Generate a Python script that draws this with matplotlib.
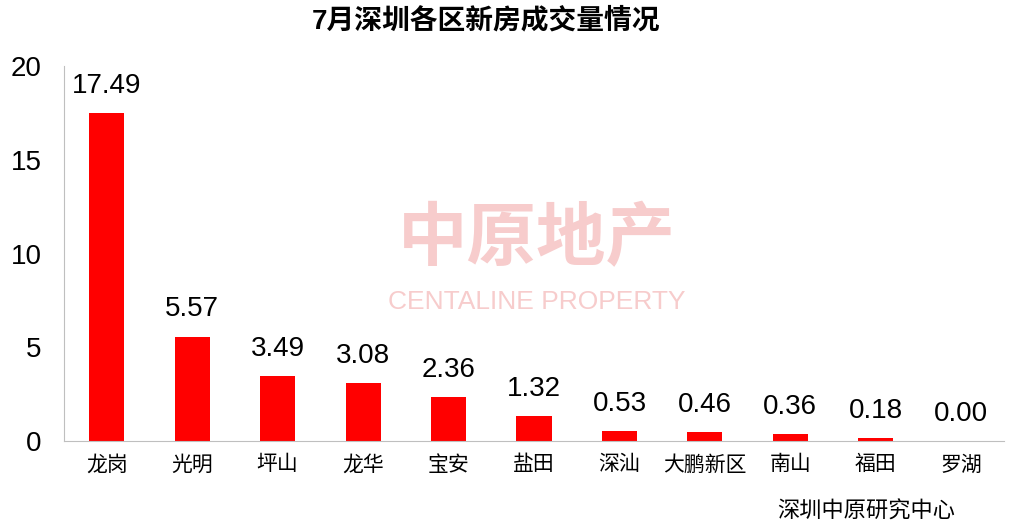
import matplotlib
matplotlib.use("Agg")
import matplotlib.pyplot as plt

plt.rcParams["font.family"] = ["Liberation Sans", "Noto Sans CJK SC"]

districts = ["龙岗", "光明", "坪山", "龙华", "宝安", "盐田", "深汕", "大鹏新区", "南山", "福田", "罗湖"]
volumes = [17.49, 5.57, 3.49, 3.08, 2.36, 1.32, 0.53, 0.46, 0.36, 0.18, 0.00]
y_ticks = [0, 5, 10, 15, 20]

fig = plt.figure(figsize=(10.13, 5.25), dpi=100)
ax = fig.add_axes([64 / 1013, 1 - 441 / 525, 940 / 1013, 375 / 525])

x = range(len(districts))
ax.bar(x, volumes, width=0.41, color="#ff0000")
for xi, v in zip(x, volumes):
    ax.text(xi, v + 0.75, f"{v:.2f}", ha="center", va="bottom", fontsize=20)

ax.set_xlim(-0.5, len(districts) - 0.5)
ax.set_ylim(0, 20)
ax.set_yticks(y_ticks)
ax.set_xticks(list(x))
ax.set_xticklabels(districts, fontsize=15)
ax.tick_params(axis="y", labelsize=20, length=0, pad=16)
ax.tick_params(axis="x", length=0, pad=10)
for side in ["top", "right"]:
    ax.spines[side].set_visible(False)
ax.spines["left"].set_color("#bfbfbf")
ax.spines["bottom"].set_color("#bfbfbf")

# watermark
fig.text(0.53, 0.54, "中原地产", fontsize=50, color="#f7cccc", ha="center", va="center",
         fontweight="bold")
fig.text(0.53, 0.425, "CENTALINE PROPERTY", fontsize=19, color="#f7cccc", ha="center", va="center")

fig.suptitle("7月深圳各区新房成交量情况", x=0.48, y=0.985, fontsize=20, fontweight="bold")
fig.text(0.855, 0.005, "深圳中原研究中心", fontsize=16, ha="center", va="bottom")

fig.savefig("out.png", dpi=100)
